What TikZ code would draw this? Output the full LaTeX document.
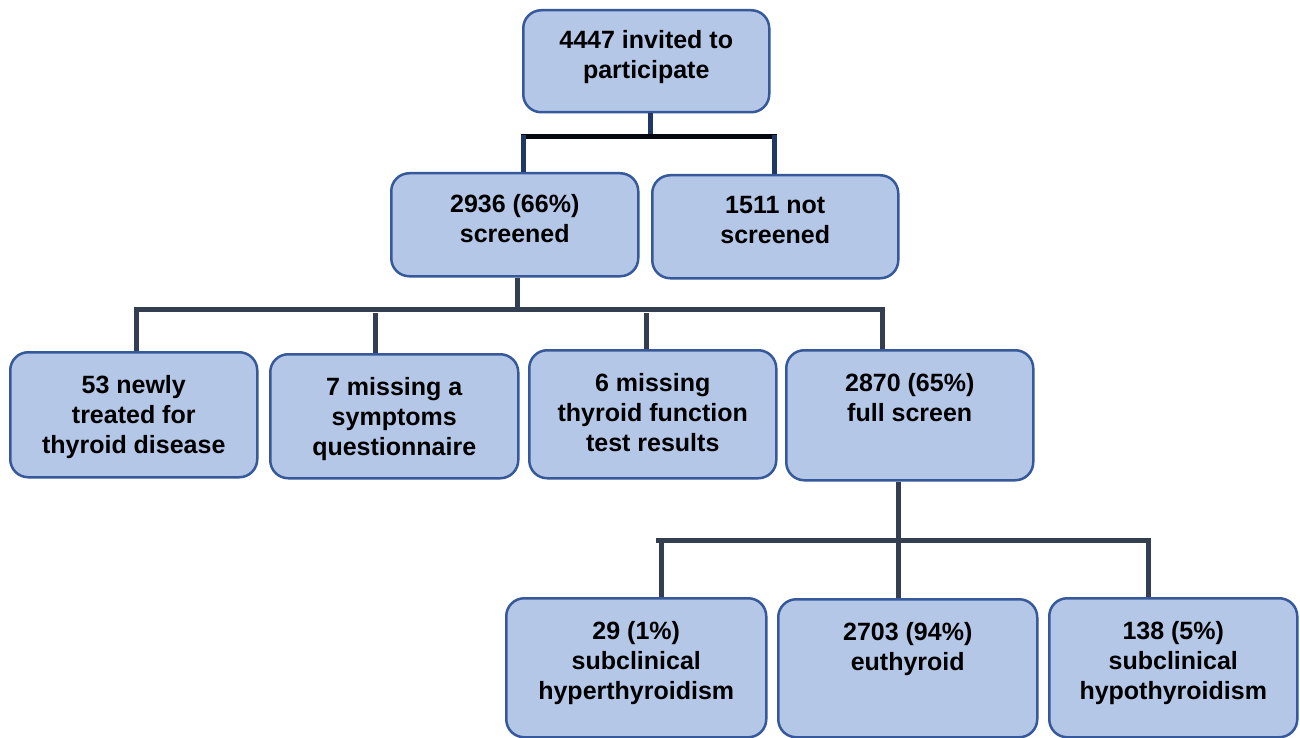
\documentclass[tikz,border=0pt]{standalone}
\usepackage{fontspec}
\setmainfont{Liberation Sans}
\definecolor{boxfill}{HTML}{B4C7E7}
\definecolor{boxline}{HTML}{35599A}
\definecolor{connline}{HTML}{333F50}
\definecolor{conntop}{HTML}{203864}
\begin{document}
\begin{tikzpicture}[x=1pt,y=-1pt,
  box/.style={draw=boxline, fill=boxfill, line width=2.5pt, rounded corners=18pt, inner sep=0pt},
  txt/.style={anchor=north, align=center, font=\bfseries\fontsize{25}{30}\selectfont, inner sep=0pt},
  conn/.style={draw=connline, line width=5pt},
  conntopst/.style={draw=conntop, line width=5pt}]
\fill[white] (0,0) rectangle (1300,738);
\useasboundingbox (0,0) rectangle (1300,738);
\newcommand{\mybox}[5]{%
  \node[box, anchor=north west, minimum width=#4-#2, minimum height=#5-#3] (#1) at (#2,#3) {};}
\mybox{top}{522}{9}{768}{111}
\mybox{scr}{390}{172}{637}{275}
\mybox{nots}{651}{174}{897}{277}
\mybox{a}{9}{351}{256}{476}
\mybox{b}{269}{353}{517}{477}
\mybox{c}{528}{349}{775}{477}
\mybox{d}{785}{349}{1032}{479}
\mybox{e}{505}{597}{765}{736}
\mybox{f}{777}{598}{1036}{736}
\mybox{g}{1048}{597}{1296}{736}
\node[txt] (topT) at ([yshift=-21pt]top.north) {4447 invited to\\participate};
\node[txt] (scrT) at ([yshift=-22pt]scr.north) {2936 (66\%)\\screened};
\node[txt] (notsT) at ([yshift=-22pt]nots.north) {1511 not\\screened};
\node[txt] (aT) at ([yshift=-24pt]a.north) {53 newly\\treated for\\thyroid disease};
\node[txt] (bT) at ([yshift=-24pt]b.north) {7 missing a\\symptoms\\questionnaire};
\node[txt] (cT) at ([yshift=-24pt]c.north) {6 missing\\thyroid function\\test results};
\node[txt] (dT) at ([yshift=-24pt]d.north) {2870 (65\%)\\full screen};
\node[txt] (eT) at ([yshift=-24pt]e.north) {29 (1\%)\\subclinical\\hyperthyroidism};
\node[txt] (fT) at ([yshift=-24pt]f.north) {2703 (94\%)\\euthyroid};
\node[txt] (gT) at ([yshift=-24pt]g.north) {138 (5\%)\\subclinical\\hypothyroidism};
% level 1
\coordinate (j1) at (650,137);
\coordinate (h1l) at (521,137);
\coordinate (h1r) at (777,137);
\coordinate (d1a) at (523,135);
\coordinate (d1b) at (774,135);
\draw[conntopst] (top.south -| j1) -- (j1);
\draw[draw=black!85!conntop, line width=5pt] (h1l) -- (h1r);
\draw[conntopst] (d1a) -- (d1a |- scr.north);
\draw[conntopst] (d1b) -- (d1b |- nots.north);
% level 2
\coordinate (j2) at (517,309);
\coordinate (h2l) at (134,309);
\coordinate (h2r) at (885,309);
\coordinate (d2a) at (136,307);
\coordinate (d2b) at (375,313);
\coordinate (d2c) at (646,313);
\coordinate (d2d) at (882,307);
\draw[conn] (scr.south -| j2) -- (j2);
\draw[conn] (h2l) -- (h2r);
\draw[conn] (d2a) -- (d2a |- a.north);
\draw[conn] (d2b) -- (d2b |- b.north);
\draw[conn] (d2c) -- (d2c |- c.north);
\draw[conn] (d2d) -- (d2d |- d.north);
% level 3
\coordinate (j3) at (898,540);
\coordinate (h3l) at (656,540);
\coordinate (h3r) at (1151,540);
\coordinate (d3a) at (661,538);
\coordinate (d3c) at (1148,538);
\draw[conn] (d.south -| j3) -- (j3 |- f.north);
\draw[conn] (h3l) -- (h3r);
\draw[conn] (d3a) -- (d3a |- e.north);
\draw[conn] (d3c) -- (d3c |- g.north);
\end{tikzpicture}
\end{document}
